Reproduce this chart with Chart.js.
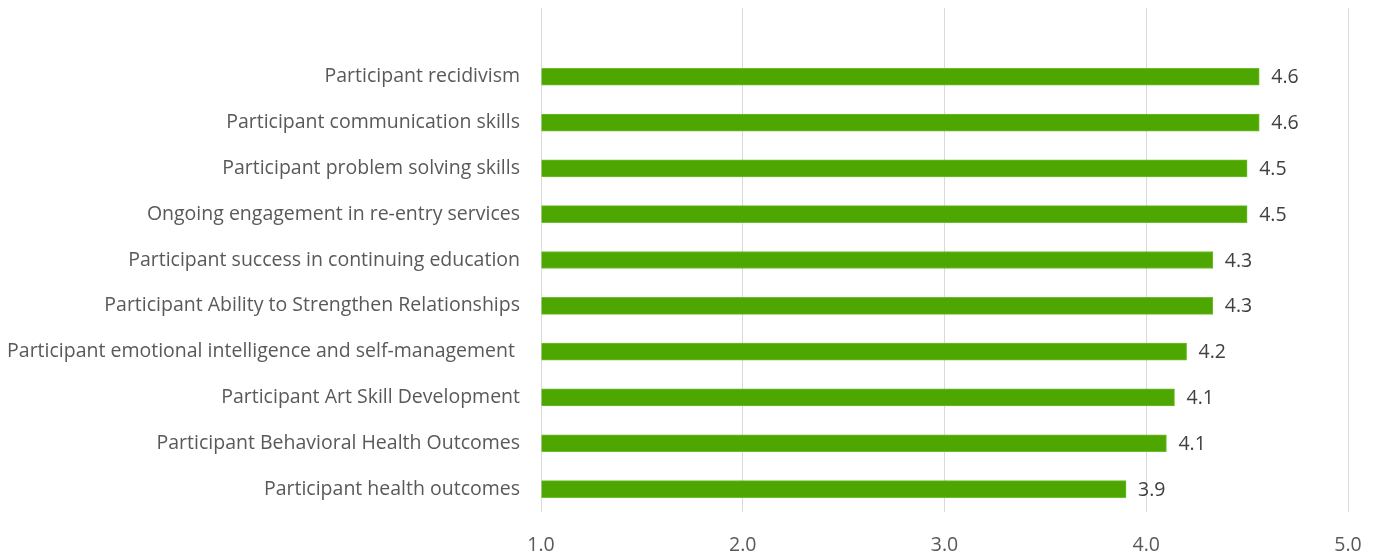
<!DOCTYPE html>
<html lang="en">
<head>
    <meta charset="UTF-8">
    <title>Participant Outcomes</title>
    <style>
        html, body { margin: 0; padding: 0; background: #fff; }
        .chart-box { width: 1377px; height: 555px; position: relative; }
    </style>
    <script src="https://cdn.jsdelivr.net/npm/chart.js"></script>
</head>
<body>
    <div class="chart-box">
        <canvas id="outcomeChart"></canvas>
    </div>

    <script>
        // top row is left blank on purpose
        const categories = [
            '',
            'Participant recidivism',
            'Participant communication skills',
            'Participant problem solving skills',
            'Ongoing engagement in re-entry services',
            'Participant success in continuing education',
            'Participant Ability to Strengthen Relationships',
            'Participant emotional intelligence and self-management ',
            'Participant Art Skill Development',
            'Participant Behavioral Health Outcomes',
            'Participant health outcomes'
        ];
        const averageScores = [null, 4.56, 4.56, 4.50, 4.50, 4.33, 4.33, 4.20, 4.14, 4.10, 3.90];
        const xTicks = [1.0, 2.0, 3.0, 4.0, 5.0];

        const fontFamily = '"Open Sans", "Noto Sans", sans-serif';
        const fontSize = 19.5;

        // value labels to the right of each bar
        const valueLabels = {
            id: 'valueLabels',
            afterDatasetsDraw(chart) {
                const ctx = chart.ctx;
                const meta = chart.getDatasetMeta(0);
                ctx.save();
                ctx.font = fontSize + 'px ' + fontFamily;
                ctx.fillStyle = '#404040';
                ctx.textAlign = 'left';
                ctx.textBaseline = 'middle';
                meta.data.forEach(function(bar, i) {
                    const v = averageScores[i];
                    if (v == null) return;
                    ctx.fillText(v.toFixed(1), bar.x + 12, bar.y + 1);
                });
                ctx.restore();
            }
        };

        // keep the plot area fixed, ignore label overhang
        function noOverhang(scale) {
            scale.paddingTop = 0;
            scale.paddingBottom = 0;
            scale.paddingLeft = 0;
            scale.paddingRight = 0;
        }

        const ctx = document.getElementById('outcomeChart').getContext('2d');
        new Chart(ctx, {
            type: 'bar',
            data: {
                labels: categories,
                datasets: [{
                    data: averageScores,
                    base: 1,
                    backgroundColor: '#4ea600',
                    borderColor: '#6cbd2c',
                    borderWidth: 1,
                    barThickness: 17
                }]
            },
            options: {
                indexAxis: 'y',
                responsive: true,
                maintainAspectRatio: false,
                animation: false,
                layout: { padding: { top: 8, right: 29, left: 0, bottom: 0 } },
                scales: {
                    x: {
                        min: 1,
                        max: 5,
                        afterBuildTicks: function(scale) {
                            scale.ticks = xTicks.map(function(v) { return { value: v }; });
                        },
                        afterFit: function(scale) {
                            scale.height = 43;
                            noOverhang(scale);
                        },
                        border: { display: false },
                        grid: { color: '#d9d9d9', lineWidth: 1, drawTicks: false },
                        ticks: {
                            padding: 22,
                            color: '#595959',
                            font: { family: fontFamily, size: fontSize },
                            callback: function(value) { return Number(value).toFixed(1); }
                        }
                    },
                    y: {
                        afterFit: function(scale) {
                            scale.width = 541;
                            noOverhang(scale);
                        },
                        border: { display: false },
                        grid: { display: false, drawTicks: false },
                        ticks: {
                            padding: 21,
                            color: '#595959',
                            font: { family: fontFamily, size: fontSize }
                        }
                    }
                },
                plugins: {
                    legend: { display: false },
                    tooltip: { enabled: false }
                }
            },
            plugins: [valueLabels]
        });
    </script>
</body>
</html>
